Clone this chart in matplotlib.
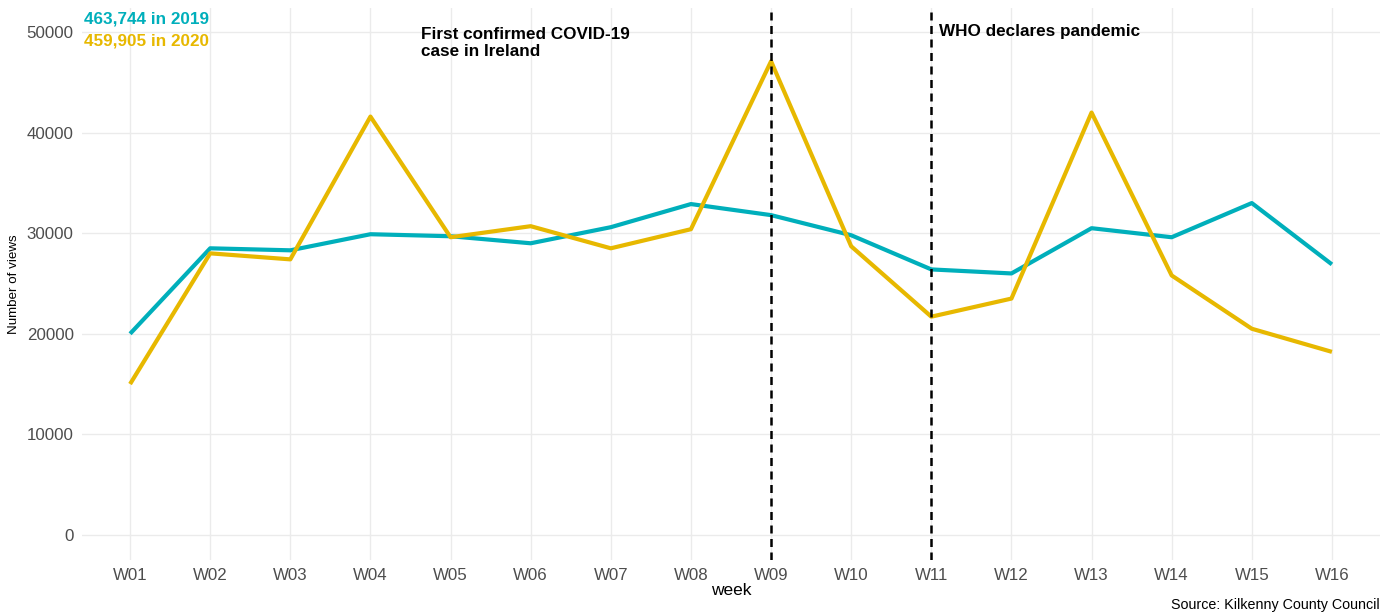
import matplotlib
matplotlib.use("Agg")
import matplotlib.pyplot as plt

weeks = ["W01", "W02", "W03", "W04", "W05", "W06", "W07", "W08",
         "W09", "W10", "W11", "W12", "W13", "W14", "W15", "W16"]
views_2019 = [20000, 28500, 28300, 29900, 29700, 29000, 30600, 32900,
              31800, 29800, 26400, 26000, 30500, 29600, 33000, 26900]
views_2020 = [15000, 28000, 27400, 41600, 29600, 30700, 28500, 30400,
              47100, 28700, 21700, 23500, 42000, 25800, 20500, 18200]
yticks = [0, 10000, 20000, 30000, 40000, 50000]
event_weeks = ["W09", "W11"]
event_labels = ["First confirmed COVID-19\ncase in Ireland", "WHO declares pandemic"]
total_labels = ["463,744 in 2019", "459,905 in 2020"]

c2019 = "#00AFBB"
c2020 = "#E7B800"
font = ["Liberation Sans", "DejaVu Sans"]
plt.rcParams["font.family"] = font

fig = plt.figure(figsize=(13.94, 6.12), dpi=100)
W, H = 1394, 612
ax = fig.add_axes([82 / W, (H - 560) / H, (1380 - 82) / W, (560 - 8) / H])

x = list(range(len(weeks)))
ax.plot(x, views_2019, color=c2019, lw=3.0, solid_capstyle="butt", zorder=3)
ax.plot(x, views_2020, color=c2020, lw=3.0, solid_capstyle="butt", zorder=3)

for wk in event_weeks:
    ax.axvline(weeks.index(wk), color="black", lw=1.8, ls=(0, (3.2, 2.2)), zorder=4)

ax.set_xlim(-0.6, len(weeks) - 1 + 0.6)
ax.set_ylim(-2500, 52400)
ax.set_xticks(x)
ax.set_xticklabels(weeks)
ax.set_yticks(yticks)
ax.set_yticklabels([str(v) for v in yticks])
ax.tick_params(axis="both", length=0, labelsize=12.2, labelcolor="#4D4D4D")
ax.tick_params(axis="x", pad=6)
ax.tick_params(axis="y", pad=6)
ax.grid(True, color="#EBEBEB", lw=1.0, zorder=0)
ax.set_axisbelow(True)
for s in ax.spines.values():
    s.set_visible(False)

ax.set_xlabel("week", fontsize=12.5, color="black", labelpad=0)
ax.set_ylabel("Number of views", fontsize=9.6, color="black", labelpad=5)

# totals
ax.text(-0.58, 51300, total_labels[0], color=c2019, fontsize=12.3,
        fontweight="bold", va="center", ha="left")
ax.text(-0.58, 49100, total_labels[1], color=c2020, fontsize=12.3,
        fontweight="bold", va="center", ha="left")

# event annotations
ax.text(3.63, 48900, event_labels[0], color="black", fontsize=12.3,
        fontweight="bold", va="center", ha="left", linespacing=1.18)
ax.text(weeks.index("W11") + 0.1, 50100, event_labels[1], color="black",
        fontsize=12.3, fontweight="bold", va="center", ha="left")

fig.text(1380 / W, 1 - 605 / H, "Source: Kilkenny County Council",
         fontsize=10.3, color="black", ha="right", va="center")

fig.savefig("out.png", dpi=100, facecolor="white")
